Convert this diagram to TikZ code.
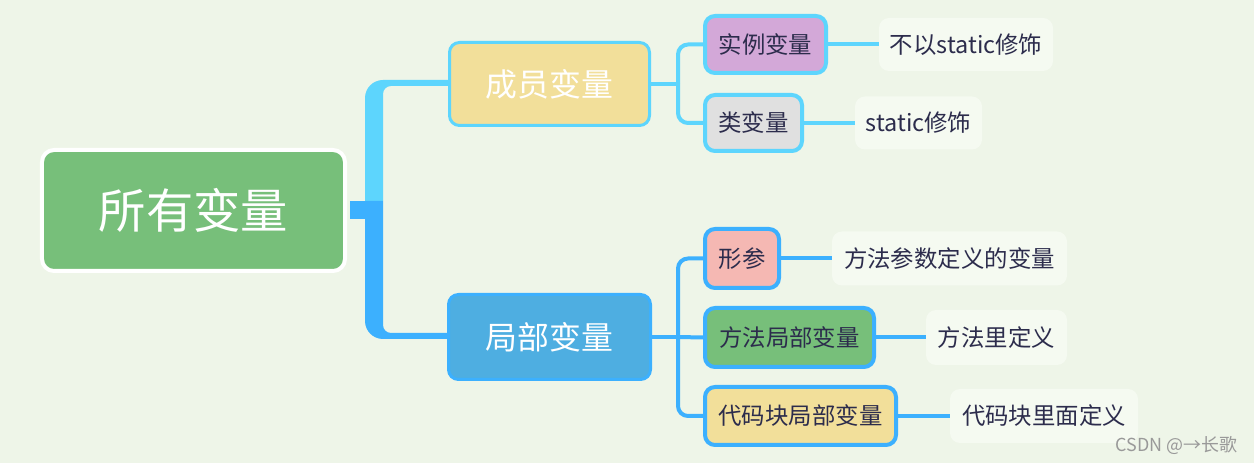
\documentclass[tikz,border=0pt]{standalone}
\usepackage{fontspec}
\usepackage{tikz}
\newfontfamily\cjk{Noto Sans CJK SC}
\definecolor{bgcol}{HTML}{EEF5E8}
\definecolor{leafcol}{HTML}{F5FAF1}
\definecolor{rootcol}{HTML}{77BF7A}
\definecolor{yellowcol}{HTML}{F2DF9A}
\definecolor{lightblue}{HTML}{5DD5FD}
\definecolor{darkblue}{HTML}{3CB0FE}
\definecolor{localcol}{HTML}{4EAEE1}
\definecolor{purplecol}{HTML}{D3A8D8}
\definecolor{graycol}{HTML}{E0E0E0}
\definecolor{pinkcol}{HTML}{F5B8B3}
\definecolor{inkcol}{HTML}{2C2C4C}

\begin{document}
\begin{tikzpicture}[x=1bp,y=-1bp,
    rootbox/.style={draw=white,line width=4bp,fill=rootcol,rounded corners=12bp,inner sep=0pt,
      minimum width=303bp,minimum height=121bp,text=white,font=\cjk\fontsize{47.5}{52}\selectfont},
    mainbox/.style={line width=3bp,rounded corners=10bp,inner sep=0pt,text=white,
      font=\cjk\fontsize{32}{36}\selectfont},
    subbox/.style={line width=4bp,rounded corners=10bp,inner sep=0pt,text=inkcol,
      font=\cjk\fontsize{23.5}{28}\selectfont},
    leafbox/.style={fill=leafcol,rounded corners=10bp,inner sep=0pt,text=inkcol,
      font=\cjk\fontsize{23.5}{28}\selectfont},
    upline/.style={draw=lightblue,line width=4bp,rounded corners=10bp},
    lowline/.style={draw=darkblue,line width=4bp,rounded corners=10bp}]
  \fill[bgcol] (0,0) rectangle (1254,463);
  \useasboundingbox (0,0) rectangle (1254,463);

  % root and first level
  \node[rootbox] (root) at (193.5,210.5) {所有变量};
  \node[mainbox,draw=lightblue,fill=yellowcol,minimum width=200bp,minimum height=83bp] (member) at (549.5,84) {成员变量};
  \node[mainbox,draw=darkblue,fill=localcol,minimum width=202bp,minimum height=85bp] (local) at (549.5,337) {局部变量};

  % second level
  \node[subbox,draw=lightblue,fill=purplecol,minimum width=121bp,minimum height=57bp] (inst) at (765.5,44.5) {实例变量};
  \node[subbox,draw=lightblue,fill=graycol,minimum width=97bp,minimum height=56bp] (cls) at (753.5,123) {类变量};
  \node[subbox,draw=darkblue,fill=pinkcol,minimum width=74bp,minimum height=59bp] (param) at (742,258.5) {形参};
  \node[subbox,draw=darkblue,fill=rootcol,minimum width=169bp,minimum height=59bp] (method) at (789.5,337.5) {方法局部变量};
  \node[subbox,draw=darkblue,fill=yellowcol,minimum width=191bp,minimum height=58bp] (block) at (800.5,416) {代码块局部变量};

  % leaves
  \node[leafbox,minimum width=174bp,minimum height=53bp] (instnote) at (966,44.5) {不以static修饰};
  \node[leafbox,minimum width=127bp,minimum height=53bp] (clsnote) at (918.5,123) {static修饰};
  \node[leafbox,minimum width=235bp,minimum height=54bp] (paramnote) at (949.5,258.5) {方法参数定义的变量};
  \node[leafbox,minimum width=141bp,minimum height=55bp] (methodnote) at (996.5,337.5) {方法里定义};
  \node[leafbox,minimum width=188bp,minimum height=54bp] (blocknote) at (1044,416) {代码块里面定义};

  % trunk from the root
  \fill[lightblue] (365,201) -- (365,98) arc[start angle=180,end angle=270,radius=18]
    -- ([yshift=4bp]member.west) -- ([yshift=-2bp]member.west)
    -- (391,86) arc[start angle=270,end angle=180,radius=8] -- (383,201) -- cycle;
  \fill[darkblue] (365,201) -- (365,321) arc[start angle=180,end angle=90,radius=18]
    -- ([yshift=-2bp]local.west) -- ([yshift=4bp]local.west)
    -- (391,333) arc[start angle=90,end angle=180,radius=8] -- (383,201) -- cycle;
  \fill[darkblue] ([xshift=3bp,yshift=9bp]root.east) rectangle (383,219);

  % branches
  \coordinate (mfork) at (678,84);
  \coordinate (lfork) at (678,337);
  \draw[upline] (member.east) -- (mfork);
  \draw[upline] (mfork) |- (inst.west);
  \draw[upline] (mfork) |- (cls.west);
  \draw[lowline] (local.east) -- (lfork);
  \draw[lowline] (lfork) |- (param.west);
  \draw[lowline] (lfork) -- (method.west);
  \draw[lowline] (lfork) |- (block.west);

  \draw[upline] (inst.east) -- (instnote.west);
  \draw[upline] (cls.east) -- (clsnote.west);
  \draw[lowline] (param.east) -- (paramnote.west);
  \draw[lowline] (method.east) -- (methodnote.west);
  \draw[lowline] (block.east) -- (blocknote.west);

  \node[text=black!40,font=\cjk\fontsize{18}{21}\selectfont,anchor=east] (mark) at (1241,446) {CSDN @→长歌};
\end{tikzpicture}
\end{document}
